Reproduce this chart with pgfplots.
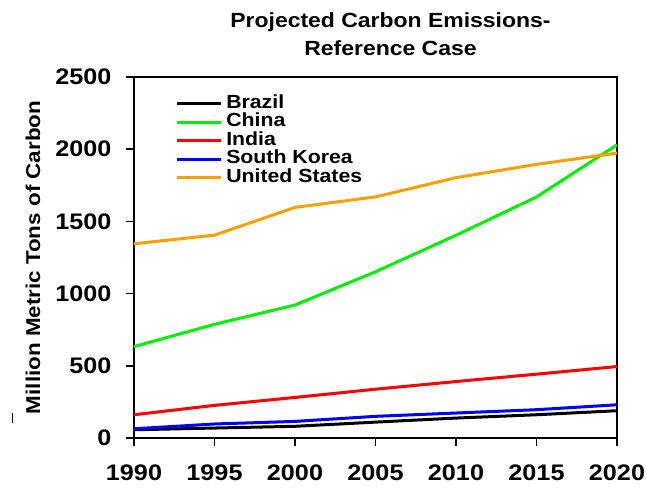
\documentclass[border=0pt]{standalone}
\usepackage{pgfplots}
\pgfplotsset{compat=1.18}
\usepackage{fontspec}
\setmainfont[FakeStretch=1.12]{Liberation Sans}
\definecolor{cgreen}{RGB}{0,240,0}
\definecolor{cred}{RGB}{255,0,0}
\definecolor{cblue}{RGB}{0,0,255}
\definecolor{corange}{RGB}{255,160,0}
\begin{document}
\begin{tikzpicture}
\begin{axis}[
  scale only axis,
  width=483pt, height=361pt,
  xmin=1990, xmax=2020, ymin=0, ymax=2500,
  xtick={1990,1995,...,2020},
  ytick={0,500,...,2500},
  xtick pos=bottom, ytick pos=left,
  tick align=outside,
  major tick length=8pt,
  axis line style={line width=2.4pt},
  every tick/.style={black, line width=1.6pt},
  /pgf/number format/assume math mode=true,
  /pgf/number format/set thousands separator={},
  tick label style={font=\fontsize{22.5}{24}\selectfont\bfseries},
  xticklabel style={yshift=-15pt},
  yticklabel style={xshift=-11pt},
  ylabel={Million Metric Tons of Carbon},
  ylabel style={font=\fontsize{20}{22}\selectfont\bfseries,
    at={(axis description cs:-0.209,0.5)}, anchor=center},
  legend style={draw=none, fill=none, at={(0.085,0.952)}, anchor=north west,
    font=\fontsize{19}{20}\selectfont\bfseries, row sep=0pt,
    inner sep=0pt, nodes={inner sep=1pt, text height=12.5pt, text depth=4pt}},
  legend cell align=left,
  legend image code/.code={\draw[#1, line width=3pt] (0pt,0pt) -- (44pt,0pt);
    \path (47pt,0pt);},
  every axis plot/.append style={line width=3pt},
]
\addplot[black] coordinates {(1990,57) (1995,69) (2000,81) (2005,110) (2010,138) (2015,161) (2020,189)};
\addlegendentry{Brazil}
\addplot[cgreen] coordinates {(1990,633) (1995,787) (2000,921) (2005,1151) (2010,1404) (2015,1669) (2020,2030)};
\addlegendentry{China}
\addplot[cred] coordinates {(1990,161) (1995,226) (2000,281) (2005,338) (2010,391) (2015,442) (2020,495)};
\addlegendentry{India}
\addplot[cblue] coordinates {(1990,64) (1995,97) (2000,115) (2005,150) (2010,173) (2015,196) (2020,230)};
\addlegendentry{South Korea}
\addplot[corange] coordinates {(1990,1345) (1995,1405) (2000,1597) (2005,1670) (2010,1803) (2015,1895) (2020,1973)};
\addlegendentry{United States}
\end{axis}
\node[font=\fontsize{20.5}{28}\selectfont\bfseries, align=center, anchor=center]
  at ([xshift=15pt,yshift=43pt]current axis.north) {Projected Carbon Emissions-\\Reference Case};
\draw[line width=1pt] ([xshift=-121pt,yshift=15pt]current axis.south west) -- ++(0,10pt);
\pgfresetboundingbox
\path (current axis.south west) ++(-134pt,-50pt) rectangle ++(646pt,488pt);
\end{tikzpicture}
\end{document}
